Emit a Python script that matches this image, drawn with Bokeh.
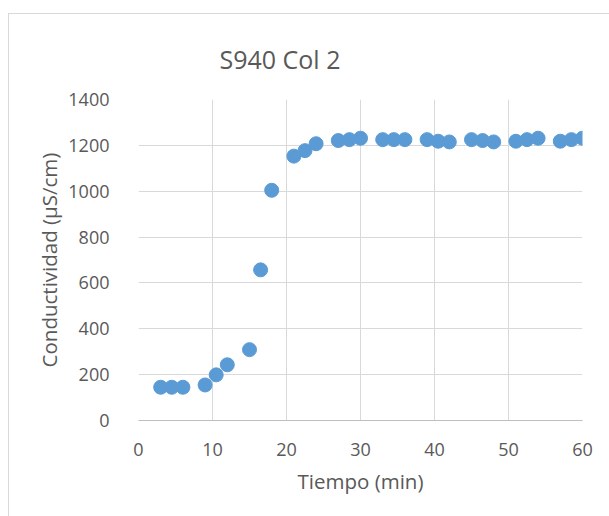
from bokeh.plotting import figure
from bokeh.models import Range1d, FixedTicker
from bokeh.embed import file_html
from bokeh.resources import INLINE

tiempo = [3, 4.5, 6, 9, 10.5, 12, 15, 16.5, 18, 21, 22.5, 24, 27, 28.5, 30,
          33, 34.5, 36, 39, 40.5, 42, 45, 46.5, 48, 51, 52.5, 54, 57, 58.5, 60]
conductividad = [145, 145, 145, 155, 199, 243, 309, 657, 1004, 1153, 1177, 1207,
                 1221, 1225, 1231, 1225, 1225, 1225, 1225, 1218, 1215, 1225, 1221,
                 1215, 1218, 1225, 1231, 1218, 1225, 1231]
x_ticks = [0, 10, 20, 30, 40, 50, 60]
y_ticks = [0, 200, 400, 600, 800, 1000, 1200, 1400]

FONT = "Open Sans"
GRAY = "#595959"

p = figure(width=601, height=503, output_backend="svg", toolbar_location=None,
           x_range=Range1d(0, 60), y_range=Range1d(0, 1400),
           min_border_left=129, min_border_right=28, min_border_top=85,
           min_border_bottom=97, title="S940 Col 2")
p.margin = (13, 0, 0, 8)
p.styles = {"border-top": "1px solid #d9d9d9", "border-left": "1px solid #d9d9d9"}
p.outline_line_color = None

p.title.align = "left"
p.title.offset = 81
p.title.standoff = 48
p.title.text_font = FONT
p.title.text_font_size = "25px"
p.title.text_font_style = "normal"
p.title.text_color = GRAY

p.scatter(tiempo, conductividad, size=14, color="#5B9BD5", line_color="#5B9BD5")

for ax in (p.xaxis, p.yaxis):
    ax.major_tick_line_color = None
    ax.minor_tick_line_color = None
    ax.major_label_text_font = FONT
    ax.major_label_text_font_size = "18px"
    ax.major_label_text_color = GRAY
    ax.axis_label_text_font = FONT
    ax.axis_label_text_font_size = "20.5px"
    ax.axis_label_text_color = GRAY
    ax.axis_label_text_font_style = "normal"

p.xaxis.ticker = FixedTicker(ticks=x_ticks)
p.yaxis.ticker = FixedTicker(ticks=y_ticks)
p.xaxis.axis_line_color = "#bfbfbf"
p.yaxis.axis_line_color = None
p.xaxis.major_label_standoff = 16
p.yaxis.major_label_standoff = 23
p.xaxis.axis_label = "Tiempo (min)"
p.yaxis.axis_label = "Conductividad (µS/cm)"
p.xaxis.axis_label_standoff = 8
p.yaxis.axis_label_standoff = 2

p.xgrid.ticker = FixedTicker(ticks=x_ticks)
p.ygrid.ticker = FixedTicker(ticks=y_ticks)
p.xgrid.grid_line_color = "#d9d9d9"
p.ygrid.grid_line_color = "#d9d9d9"

open("out.html", "w").write(file_html(p, INLINE))
